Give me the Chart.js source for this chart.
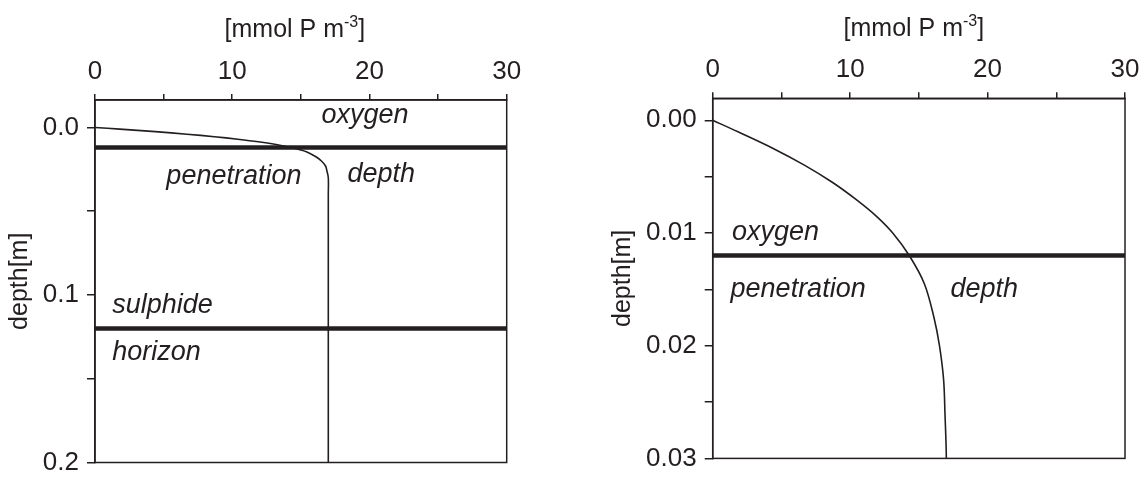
<!DOCTYPE html>
<html>
<head>
<meta charset="utf-8">
<title>Phosphate profile</title>
<script src="https://cdn.jsdelivr.net/npm/chart.js@4.4.1/dist/chart.umd.min.js"></script>
<style>
  html, body { margin: 0; padding: 0; background: #ffffff; }
  body { width: 1147px; height: 477px; position: relative; overflow: hidden; }
  .panel { position: absolute; top: 0; height: 477px; }
  #panelFull { left: 0; width: 573px; }
  #panelZoom { left: 573px; width: 574px; }
</style>
</head>
<body>
<div class="panel" id="panelFull"><canvas id="chartFull"></canvas></div>
<div class="panel" id="panelZoom"><canvas id="chartZoom"></canvas></div>
<script>
// Phosphate concentration [mmol P m^-3] against sediment depth [m]
const profileDepth = [0, 0.001, 0.0025, 0.004, 0.0055, 0.007, 0.0085, 0.010, 0.012, 0.0145, 0.0175, 0.020, 0.023, 0.026, 0.030, 0.040, 0.080, 0.140, 0.200];
const profileConc  = [0, 1.8,   4.4,    6.7,   8.7,    10.4,  11.9,   13.1,  14.3,  15.4,   16.1,   16.5,  16.8,  16.9,  17.0,  17.0,  17.0,  17.0,  17.0];

// Horizons [m]
const oxygenPenetrationDepth = 0.012;
const sulphideHorizonDepth = 0.12;

// Concentration axis
const concRange = [0, 30];
const concTicks = [0, 5, 10, 15, 20, 25, 30];
const concLabelled = [0, 10, 20, 30];

// Depth axes
const depthTicksFull = [0, 0.05, 0.1, 0.15, 0.2];
const depthLabelledFull = [0, 0.1, 0.2];
const depthTicksZoom = [0, 0.005, 0.01, 0.015, 0.02, 0.025, 0.03];
const depthLabelledZoom = [0, 0.01, 0.02, 0.03];

const INK = '#231f20';
const FONT = '"Liberation Sans", Arial, Helvetica, sans-serif';

// Frame round the plot area, the unit title above it and the italic zone labels
const decorPlugin = {
  id: 'decor',
  afterDatasetsDraw(chart, args, opts) {
    const { ctx, chartArea: a, scales } = chart;
    ctx.save();
    ctx.strokeStyle = INK;
    ctx.lineWidth = 1.5;
    ctx.strokeRect(a.left, a.top, a.right - a.left, a.bottom - a.top);

    ctx.fillStyle = INK;
    ctx.textAlign = 'left';
    ctx.textBaseline = 'alphabetic';
    ctx.font = 'italic ' + opts.labelSize + 'px ' + FONT;
    for (const lab of opts.labels) {
      ctx.fillText(lab.text, scales.x.getPixelForValue(lab.x), scales.y.getPixelForValue(lab.y));
    }

    // "[mmol P m-3]" with a raised exponent
    const main = '[mmol P m', sup = '-3', close = ']';
    const mainFont = opts.titleSize + 'px ' + FONT;
    const supFont = Math.round(opts.titleSize * 0.62) + 'px ' + FONT;
    ctx.font = mainFont;
    const w1 = ctx.measureText(main).width, w3 = ctx.measureText(close).width;
    ctx.font = supFont;
    const w2 = ctx.measureText(sup).width;
    let x = (a.left + a.right) / 2 + opts.titleShift - (w1 + w2 + w3) / 2;
    const y = opts.titleBaseline;
    ctx.font = mainFont; ctx.fillText(main, x, y); x += w1;
    ctx.font = supFont; ctx.fillText(sup, x, y - opts.titleSize * 0.42); x += w2;
    ctx.font = mainFont; ctx.fillText(close, x, y);
    ctx.restore();
  }
};

function makePanel(canvasId, cfg) {
  const curve = profileDepth.map((d, i) => ({ x: profileConc[i], y: d }));
  const horizon = d => [{ x: concRange[0], y: d }, { x: concRange[1], y: d }];
  const datasets = [
    { data: curve, borderColor: INK, borderWidth: 1.6, tension: 0.35, pointRadius: 0, showLine: true, fill: false }
  ];
  for (const d of cfg.horizons) {
    datasets.push({ data: horizon(d), borderColor: INK, borderWidth: 4.5, pointRadius: 0, showLine: true, fill: false });
  }
  return new Chart(document.getElementById(canvasId), {
    type: 'scatter',
    data: { datasets },
    plugins: [decorPlugin],
    options: {
      responsive: true,
      maintainAspectRatio: false,
      animation: false,
      events: [],
      layout: { padding: cfg.padding },
      plugins: {
        legend: { display: false },
        tooltip: { enabled: false },
        decor: cfg.decor
      },
      scales: {
        x: {
          type: 'linear',
          position: 'top',
          min: concRange[0],
          max: concRange[1],
          afterBuildTicks: s => { s.ticks = concTicks.map(v => ({ value: v })); },
          afterFit: s => { s.height = cfg.topHeight; s.paddingLeft = 0; s.paddingRight = 0; },
          ticks: {
            callback: v => (concLabelled.includes(v) ? String(v) : ''),
            font: { family: FONT, size: cfg.tickSize },
            color: INK,
            padding: 7,
            maxRotation: 0,
            autoSkip: false
          },
          grid: { drawOnChartArea: false, drawTicks: true, tickLength: 6, color: INK, lineWidth: 1.5 },
          border: { display: true, color: INK, width: 1.5 }
        },
        y: {
          type: 'linear',
          reverse: true,
          min: cfg.depthRange[0],
          max: cfg.depthRange[1],
          afterBuildTicks: s => { s.ticks = cfg.depthTicks.map(v => ({ value: v })); },
          afterFit: s => { s.width = cfg.axisWidth; s.paddingTop = 0; s.paddingBottom = 0; },
          ticks: {
            callback: v => (cfg.depthLabelled.includes(v) ? v.toFixed(cfg.decimals) : ''),
            font: { family: FONT, size: cfg.tickSize },
            color: INK,
            padding: 8,
            autoSkip: false
          },
          title: {
            display: true,
            text: 'depth[m]',
            font: { family: FONT, size: 25 },
            color: INK,
            padding: { top: 3, bottom: 0 }
          },
          grid: { drawOnChartArea: false, drawTicks: true, tickLength: 8, color: INK, lineWidth: 1.5 },
          border: { display: true, color: INK, width: 1.5 }
        }
      }
    }
  });
}

// Whole column down to 0.2 m
makePanel('chartFull', {
  horizons: [oxygenPenetrationDepth, sulphideHorizonDepth],
  depthRange: [-0.0164, 0.2],
  depthTicks: depthTicksFull,
  depthLabelled: depthLabelledFull,
  decimals: 1,
  tickSize: 26,
  topHeight: 100,
  axisWidth: 93,
  padding: { left: 2, right: 66.3, top: 0, bottom: 14.5 },
  decor: {
    labelSize: 27,
    titleSize: 25,
    titleShift: -6,
    titleBaseline: 37,
    labels: [
      { text: 'oxygen', x: 16.5, y: -0.0027 },
      { text: 'penetration', x: 5.2, y: 0.0337 },
      { text: 'depth', x: 18.4, y: 0.0325 },
      { text: 'sulphide', x: 1.25, y: 0.111 },
      { text: 'horizon', x: 1.25, y: 0.139 }
    ]
  }
});

// Top 3 cm in detail
makePanel('chartZoom', {
  horizons: [oxygenPenetrationDepth],
  depthRange: [-0.00195, 0.03],
  depthTicks: depthTicksZoom,
  depthLabelled: depthLabelledZoom,
  decimals: 2,
  tickSize: 26,
  topHeight: 98.3,
  axisWidth: 107.7,
  padding: { left: 32, right: 22, top: 0, bottom: 18.6 },
  decor: {
    labelSize: 27,
    titleSize: 25,
    titleShift: -5,
    titleBaseline: 36,
    labels: [
      { text: 'oxygen', x: 1.4, y: 0.0106 },
      { text: 'penetration', x: 1.3, y: 0.0157 },
      { text: 'depth', x: 17.3, y: 0.0157 }
    ]
  }
});
</script>
</body>
</html>
